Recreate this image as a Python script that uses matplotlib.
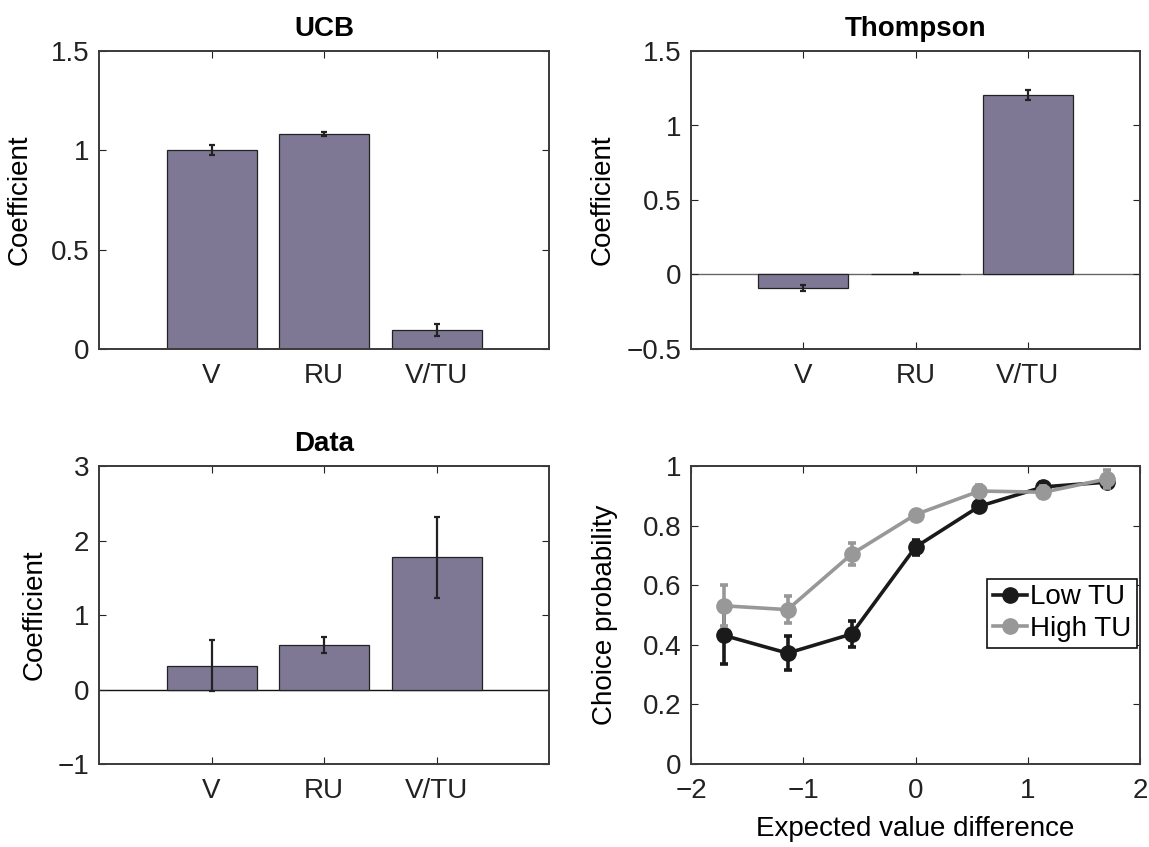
import matplotlib
matplotlib.use("Agg")
import matplotlib.pyplot as plt
from matplotlib.lines import Line2D
import numpy as np

plt.rcParams['font.family'] = ['Liberation Sans', 'DejaVu Sans']

categories = ["V", "RU", "V/TU"]
ucb_vals = [1.003, 1.08, 0.094]
ucb_err = [0.024, 0.01, 0.03]
thompson_vals = [-0.09, 0.005, 1.204]
thompson_err = [0.02, 0.004, 0.035]
data_vals = [0.32, 0.60, 1.776]
data_err = [0.34, 0.11, 0.545]

ev_diff = [-1.71, -1.14, -0.57, 0.0, 0.57, 1.14, 1.71]
low_tu = [0.432, 0.372, 0.436, 0.728, 0.865, 0.930, 0.946]
low_tu_err = [0.095, 0.056, 0.045, 0.025, 0.015, 0.015, 0.015]
high_tu = [0.531, 0.518, 0.704, 0.837, 0.916, 0.912, 0.957]
high_tu_err = [0.068, 0.045, 0.036, 0.015, 0.02, 0.02, 0.03]

W, H = 1149, 847
fig = plt.figure(figsize=(W / 100, H / 100), dpi=100)

bar_color = "#7f7895"
FS = 20

def ax_at(l, t, r, b):
    return fig.add_axes([l / W, 1 - b / H, (r - l) / W, (b - t) / H])

def style(ax):
    ax.tick_params(direction='in', length=5, width=0.8, top=True, right=True,
                   labelsize=FS, colors='#222222')
    ax.tick_params(axis='y', pad=7)
    ax.tick_params(axis='x', pad=10)
    for s in ax.spines.values():
        s.set_linewidth(1.4)
        s.set_color('#3a3a3a')

def bar_panel(ax, vals, errs, ylim, yticks, yticklabels, title, label_x, zero_line=None):
    x = np.arange(1, len(categories) + 1)
    ax.bar(x, vals, width=0.8, color=bar_color, edgecolor='#222222', linewidth=0.9, zorder=2)
    ax.errorbar(x, vals, yerr=errs, fmt='none', ecolor='#222222', elinewidth=1.6,
                capsize=2.5, capthick=1.6, zorder=3)
    if zero_line:
        ax.axhline(0, color=zero_line, linewidth=1.0, zorder=1)
    ax.set_xlim(0, 4)
    ax.set_ylim(*ylim)
    ax.set_xticks(x)
    ax.set_xticklabels(categories)
    ax.set_yticks(yticks)
    ax.set_yticklabels(yticklabels)
    ax.set_ylabel("Coefficient", fontsize=FS)
    ax.yaxis.set_label_coords(label_x, 0.5)
    ax.set_title(title, fontsize=20, fontweight='bold', pad=11)
    style(ax)

ax1 = ax_at(99, 51, 549, 349)
bar_panel(ax1, ucb_vals, ucb_err, (0, 1.5), [0, 0.5, 1, 1.5], ["0", "0.5", "1", "1.5"],
          "UCB", -0.147)

ax2 = ax_at(691, 51, 1140, 349)
bar_panel(ax2, thompson_vals, thompson_err, (-0.5, 1.5), [-0.5, 0, 0.5, 1, 1.5],
          ["\u22120.5", "0", "0.5", "1", "1.5"], "Thompson", -0.168, zero_line='#666666')

ax3 = ax_at(99, 466, 549, 764)
bar_panel(ax3, data_vals, data_err, (-1, 3), [-1, 0, 1, 2, 3],
          ["\u22121", "0", "1", "2", "3"], "Data", -0.114, zero_line='#111111')

ax4 = ax_at(691, 466, 1140, 764)
ax4.errorbar(ev_diff, low_tu, yerr=low_tu_err, color='#1a1a1a', linewidth=2.6,
             marker='o', markersize=11, elinewidth=2.6, capsize=3, capthick=2.6, zorder=2)
ax4.errorbar(ev_diff, high_tu, yerr=high_tu_err, color='#989898', linewidth=2.6,
             marker='o', markersize=11, elinewidth=2.6, capsize=3, capthick=2.6, zorder=3)
ax4.set_xlim(-2, 2)
ax4.set_ylim(0, 1)
ax4.set_xticks([-2, -1, 0, 1, 2])
ax4.set_xticklabels(["\u22122", "\u22121", "0", "1", "2"])
ax4.set_yticks([0, 0.2, 0.4, 0.6, 0.8, 1])
ax4.set_yticklabels(["0", "0.2", "0.4", "0.6", "0.8", "1"])
ax4.set_xlabel("Expected value difference", fontsize=FS, labelpad=9)
ax4.set_ylabel("Choice probability", fontsize=FS)
ax4.yaxis.set_label_coords(-0.162, 0.5)
style(ax4)
handles = [Line2D([], [], color='#1a1a1a', linewidth=2.6, marker='o', markersize=11),
           Line2D([], [], color='#989898', linewidth=2.6, marker='o', markersize=11)]
leg = ax4.legend(handles, ['Low TU', 'High TU'], loc='upper right',
                 bbox_to_anchor=(0.993, 0.621), fontsize=FS,
                 frameon=True, fancybox=False, edgecolor='#111111', framealpha=1,
                 handlelength=1.25, handletextpad=0.1, borderpad=0.2,
                 labelspacing=0.2, borderaxespad=0)
leg.get_frame().set_linewidth(1.2)

fig.savefig("out.png", dpi=100)
